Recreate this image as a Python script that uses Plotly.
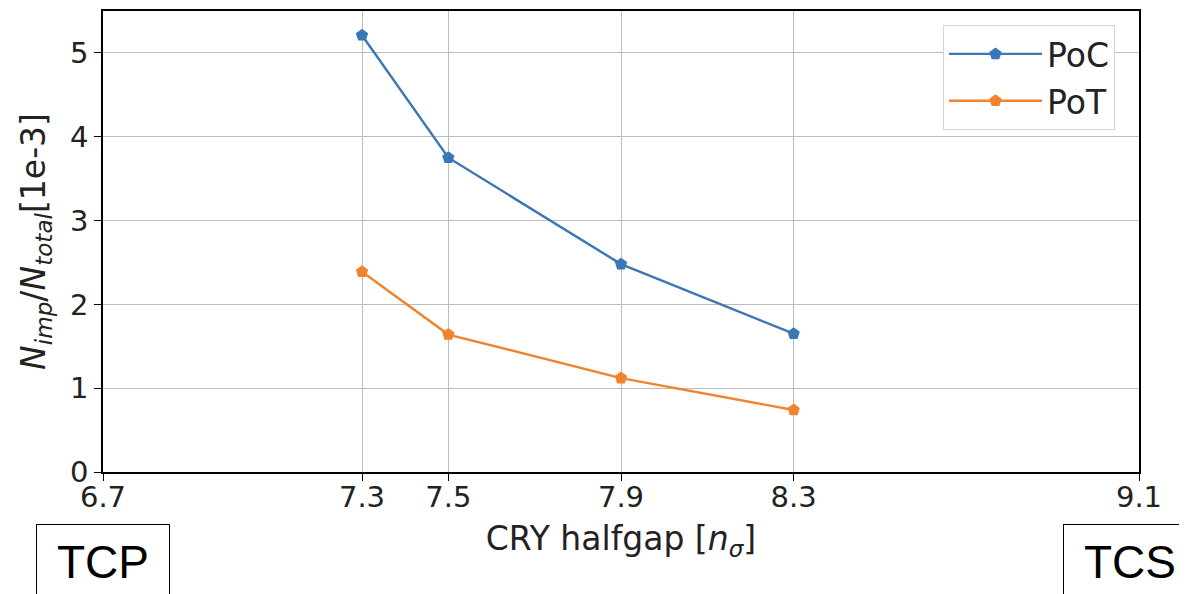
import plotly.graph_objects as go

halfgap = [7.3, 7.5, 7.9, 8.3]
poc = [5.21, 3.75, 2.48, 1.65]
pot = [2.39, 1.64, 1.12, 0.74]
xticks = [6.7, 7.3, 7.5, 7.9, 8.3, 9.1]
xticklabels = ["6.7", "7.3", "7.5", "7.9", "8.3", "9.1"]
yticks = [0, 1, 2, 3, 4, 5]

# page has an 8px body margin; figure drawn from (8,8)
OFF = 8
W, H = 1187 - OFF, 594 - OFF
# plot area in page coordinates
PL, PR, PT, PB = 103, 1139, 9, 472
ml, mr, mt, mb = PL - OFF, W - (PR - OFF), PT - OFF, H - (PB - OFF)

fig = go.Figure()
fig.add_trace(go.Scatter(x=halfgap, y=poc, name="PoC", mode="lines+markers", legendgroup="a",
                         line=dict(color="#3a78b5", width=2.4),
                         marker=dict(symbol="pentagon", size=13, color="#3a78b5")))
fig.add_trace(go.Scatter(x=halfgap, y=pot, name="PoT", mode="lines+markers", legendgroup="b",
                         line=dict(color="#f0842c", width=2.4),
                         marker=dict(symbol="pentagon", size=13, color="#f0842c")))

axis_common = dict(showline=True, linecolor="black", linewidth=1.5, mirror=True,
                   ticks="outside", ticklen=7, tickcolor="black", tickwidth=1.3,
                   showgrid=True, gridcolor="#bdbdbd", gridwidth=1.2, zeroline=False,
                   tickfont=dict(family="DejaVu Sans", size=29, color="#222"))

fig.update_xaxes(range=[6.7, 9.1], tickvals=xticks, ticktext=xticklabels,
                 ticklabelstandoff=-9,
                 title=dict(text="CRY halfgap [<i>n</i><sub><i>σ</i></sub>]",
                            font=dict(family="DejaVu Sans", size=33, color="#222"), standoff=14),
                 **axis_common)
fig.update_yaxes(range=[0, 5.5], tickvals=yticks,
                 title=dict(text="<i>N</i><sub><i>imp</i></sub>/<i>N</i><sub><i>total</i></sub>[1e-3]",
                            font=dict(family="DejaVu Sans", size=33, color="#222"), standoff=14),
                 **axis_common)

pw = PR - PL
ph = PB - PT

def px(xp):
    return (xp - PL) / pw

def py(yp):
    return (PB - yp) / ph

for label, cx in [("TCP", 103), ("TCS", 1130)]:
    fig.add_annotation(text=label, xref="paper", yref="paper", x=px(cx), y=py(562),
                       xanchor="center", yanchor="middle", showarrow=False,
                       width=132, height=74, borderpad=0, bordercolor="black", borderwidth=1,
                       font=dict(family="Liberation Sans", size=46, color="black"))

fig.update_layout(
    width=W, height=H,
    margin=dict(l=ml, r=mr, t=mt, b=mb),
    paper_bgcolor="white", plot_bgcolor="white",
    showlegend=True,
    legend=dict(x=px(943), y=py(23), xanchor="left", yanchor="top",
                bgcolor="white", bordercolor="#d5d5d5", borderwidth=1,
                font=dict(family="DejaVu Sans", size=33, color="#222"),
                itemwidth=93, tracegroupgap=1, traceorder="grouped"),
)

fig.write_html("out.html")
